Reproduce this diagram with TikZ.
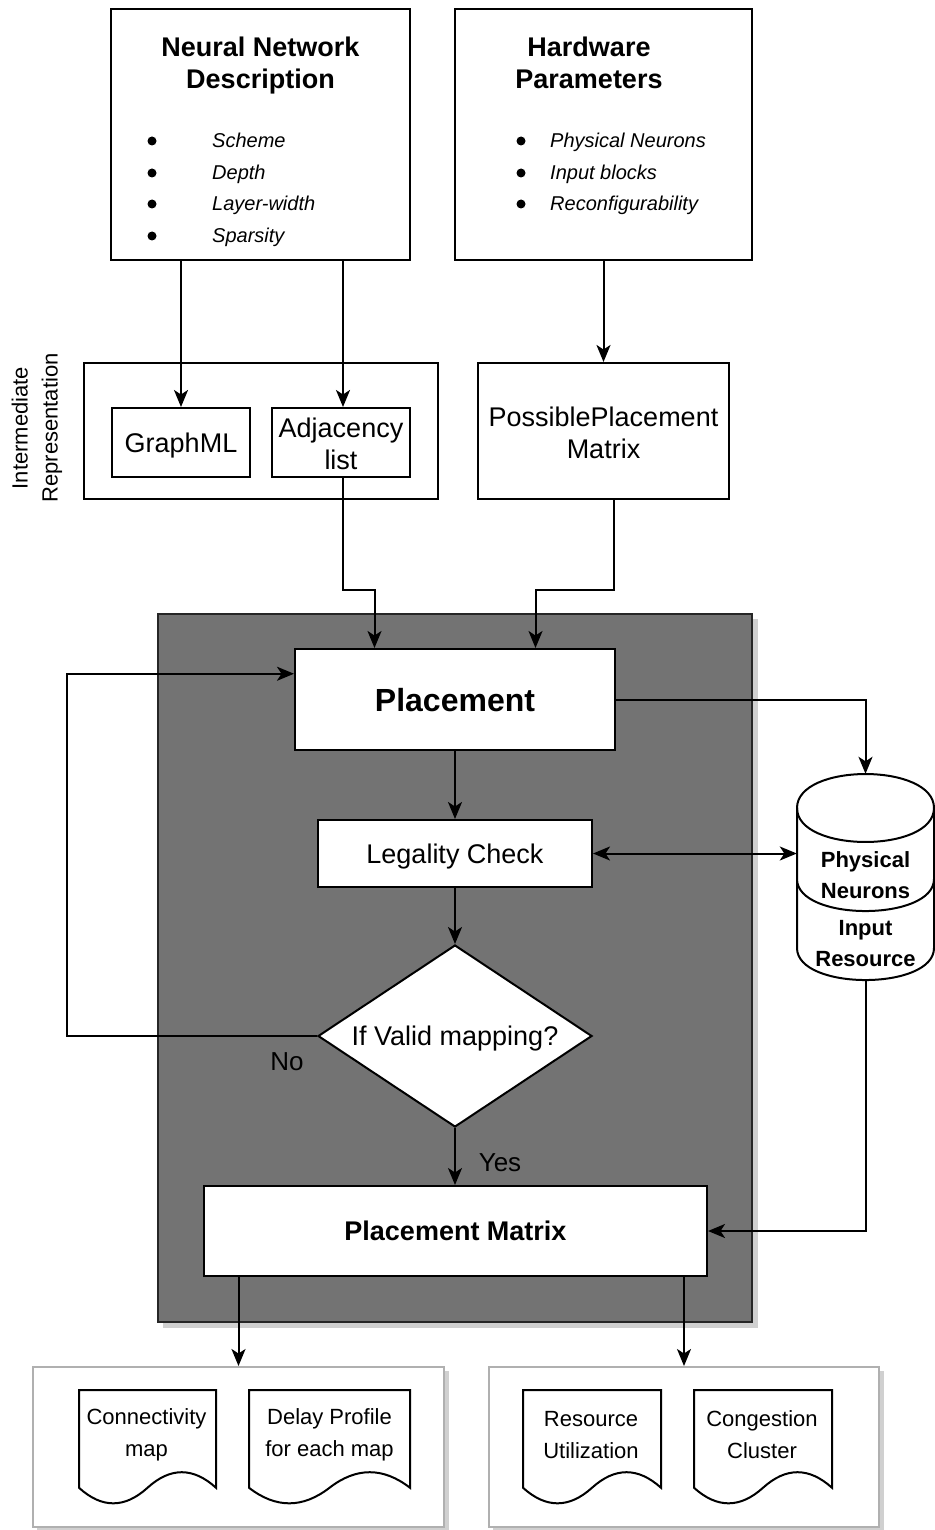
\documentclass[tikz,border=0pt]{standalone}
\usepackage{fontspec}
\setmainfont{Liberation Sans}
\usetikzlibrary{arrows.meta,calc,shapes.geometric}
\definecolor{boxgray}{HTML}{737373}
\definecolor{shadowgray}{HTML}{D0D0D0}
\definecolor{framegray}{HTML}{B0B0B0}
\newcommand\mydoc[2]{%
  \draw[docline] (#1,1390) -- ({#1+#2},1390) -- ({#1+#2},1487.75)
    .. controls ({#1+5*#2/6},1467) and ({#1+2*#2/3},1467) .. ({#1+#2/2},1487.75)
    .. controls ({#1+#2/3},1508.5) and ({#1+#2/6},1508.5) .. (#1,1487.75) -- cycle;}
\begin{document}
\begin{tikzpicture}[x=1pt,y=-1pt,
  arr/.style={-{Stealth[length=17pt,width=14pt,inset=4.5pt]}, line width=2pt},
  dbl/.style={{Stealth[length=17pt,width=14pt,inset=4.5pt]}-{Stealth[length=17pt,width=14pt,inset=4.5pt]}, line width=2pt},
  box/.style={draw, line width=2pt, fill=white, inner sep=0pt},
  framebox/.style={draw=framegray, line width=2pt, fill=white, inner sep=0pt},
  docline/.style={draw, line width=2pt, fill=white},
  title/.style={font=\fontsize{27}{32}\selectfont\bfseries, align=center},
  item/.style={font=\fontsize{20}{24}\selectfont\itshape, anchor=base west, inner sep=0pt},
  big/.style={font=\fontsize{27}{32}\selectfont, align=center},
  capc/.style={text height=19.4pt, text depth=0pt},
  small/.style={font=\fontsize{22}{32}\selectfont, align=center},
  lab/.style={font=\fontsize{26}{30}\selectfont, inner sep=0pt},
]
\useasboundingbox (0,0) rectangle (934,1530);

% top boxes
\node[box, minimum width=299pt, minimum height=251pt] (nnd) at (260.5,134.5) {};
\node[title] (nndt) at (260.5,66) {Neural Network\\Description};
\foreach \yy/\tx/\nm in {141/Scheme/a, 173/Depth/b, 204/Layer-width/c, 236/Sparsity/d}{
  \fill (152,\yy) circle (4.5);
  \node[item] (nnitem\nm) at (212,\yy+7) {\tx};
}
\node[box, minimum width=297pt, minimum height=251pt] (hw) at (603.5,134.5) {};
\node[title] (hwt) at (589,63) {Hardware\\Parameters};
\foreach \yy/\tx/\nm in {141/Physical Neurons/a, 173/Input blocks/b, 204/Reconfigurability/c}{
  \fill (521,\yy) circle (4.5);
  \node[item] (hwitem\nm) at (550,\yy+7) {\tx};
}

% intermediate representation
\node[box, minimum width=354pt, minimum height=136pt] (ir) at (261,431) {};
\node[small, font=\fontsize{22}{30}\selectfont, rotate=90] (irl) at (37,428) {Intermediate\\Representation};
\node[box, minimum width=138pt, minimum height=69pt, big, capc] (gml) at (181,442.5) {GraphML};
\node[box, minimum width=138pt, minimum height=69pt] (adj) at (341,442.5) {};
\node[big] (adjt) at (341,444) {Adjacency\\list};
\node[box, minimum width=251pt, minimum height=136pt] (ppm) at (603.5,431) {};
\node[big] (ppmt) at (603.5,433) {PossiblePlacement\\Matrix};

% grey container
\fill[shadowgray] (163,619) rectangle (758,1328);
\node[draw=black!85, line width=2pt, fill=boxgray, minimum width=594pt, minimum height=708pt, inner sep=0pt] (grey) at (455,968) {};

\node[box, minimum width=320pt, minimum height=101pt, font=\fontsize{32}{36}\selectfont\bfseries, text height=23pt, text depth=0pt] (place) at (455,699.5) {Placement};
\node[box, minimum width=274pt, minimum height=67pt, big, capc] (legal) at (455,853.5) {Legality Check};
\node[box, diamond, aspect=1.5, minimum width=274pt, minimum height=182pt, big, capc] (dia) at (455,1036) {If Valid mapping?};
\node[box, minimum width=503pt, minimum height=90pt, title] (pm) at (455.5,1231) {Placement Matrix};
\node[lab] (nolab) at (287,1062) {No};
\node[lab] (yeslab) at (500,1163) {Yes};

% cylinders
\node[minimum width=137pt, minimum height=206pt, inner sep=0pt] (cyl) at (865.5,877) {};
\draw[line width=2pt, fill=white] (797,879) -- (797,948)
  .. controls (797,990.7) and (934,990.7) .. (934,948) -- (934,879);
\draw[line width=2pt, fill=white] (797,808)
  .. controls (797,762.7) and (934,762.7) .. (934,808) -- (934,879)
  .. controls (934,921.7) and (797,921.7) .. (797,879) -- cycle;
\draw[line width=2pt] (797,808) .. controls (797,853.3) and (934,853.3) .. (934,808);
\node[small, font=\fontsize{22}{31}\selectfont\bfseries] (pn) at (865.5,875) {Physical\\Neurons};
\node[small, font=\fontsize{22}{31}\selectfont\bfseries] (inr) at (865.5,944) {Input\\Resource};

% bottom output groups
\fill[shadowgray] (37,1371) rectangle (449,1531);
\fill[shadowgray] (493,1371) rectangle (884,1531);
\node[framebox, minimum width=411pt, minimum height=160pt] (bl) at (238.5,1447) {};
\node[framebox, minimum width=390pt, minimum height=160pt] (br) at (684,1447) {};
\mydoc{79}{137}
\mydoc{249}{161}
\mydoc{523}{138}
\mydoc{694}{138}
\node[small] (conn) at (146.5,1435) {Connectivity\\map};
\node[small] (delay) at (329.5,1435) {Delay Profile\\for each map};
\node[small] (res) at (591,1435) {Resource\\Utilization};
\node[small] (cong) at (762,1435) {Congestion\\Cluster};

% connectors
\draw[arr] (nnd.south -| gml.north) -- (gml.north);
\draw[arr] (nnd.south -| 343,0) -- (adj.north -| 343,0);
\draw[arr] (hw.south) -- (ppm.north);
\coordinate (pin1) at ($(place.north west)!0.25!(place.north east)$);
\coordinate (pin2) at ($(place.north west)!0.75!(place.north east)$);
\draw[arr] (adj.south -| 343,0) -- (343,590) -| (pin1);
\draw[arr] (ppm.south -| 614,0) -- (614,590) -| (pin2);
\draw[arr] (place.south) -- (legal.north);
\draw[arr] (legal.south) -- (dia.north);
\draw[arr] (dia.west) -- (67,1036) |- ($(place.north west)!0.25!(place.south west)$);
\draw[arr] (dia.south) -- (pm.north -| dia.south);
\draw[arr] (place.east) -| (cyl.north);
\draw[dbl] (legal.east) -- (legal.east -| cyl.west);
\draw[arr] (cyl.south) |- (pm.east);
\draw[arr] (pm.south -| bl.north) -- (bl.north);
\draw[arr] (pm.south -| br.north) -- (br.north);
\end{tikzpicture}
\end{document}
